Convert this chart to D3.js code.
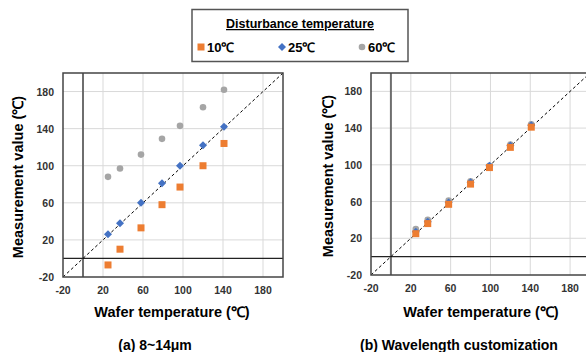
<!DOCTYPE html>
<html>
<head>
<meta charset="utf-8">
<script src="https://cdn.jsdelivr.net/npm/d3@7"></script>
<style>
  body { margin: 0; background: #fff; }
  svg { display: block; font-family: "Liberation Sans", Arial, sans-serif; }
</style>
</head>
<body>
<div id="chart"></div>
<script>
// data
const seriesNames = ['10℃', '25℃', '60℃'];
const seriesColors = ['#ED7D31', '#4472C4', '#A5A5A5'];
const ticks = [-20, 20, 60, 100, 140, 180];

const waferA = [25, 37, 58, 79, 97, 120, 141];
const a10 = [-7, 10, 33, 58, 77, 100, 124];
const a25 = [26, 38, 60, 81, 100, 122, 142];
const a60 = [88, 97, 112, 129, 143, 163, 182];

const waferB = [25, 37, 58, 80, 99, 120, 141];
const b10 = [25, 36, 57, 79, 97, 119, 141];
const b25 = [27, 38, 59, 81, 99, 121, 143];
const b60 = [30, 40, 61, 82, 99, 122, 144];

const panels = [
  { left: 63, right: 283, top: 73, bottom: 277, wafer: waferA, series: [a10, a25, a60],
    yTitleX: 18, xTitleX: 172, caption: '(a) 8~14μm', captionX: 155 },
  { left: 371, right: 590, top: 73, bottom: 275, wafer: waferB, series: [b10, b25, b60],
    yTitleX: 328, xTitleX: 481, caption: '(b) Wavelength customization', captionX: 459 }
];

const svg = d3.select('#chart').append('svg')
  .attr('width', 586)
  .attr('height', 352);

function marker(sel, i, color) {
  if (i === 0) {
    sel.append('rect').attr('x', -3.5).attr('y', -3.5).attr('width', 7).attr('height', 7).attr('fill', color);
  } else if (i === 1) {
    sel.append('path').attr('d', 'M0,-4L4,0L0,4L-4,0Z').attr('fill', color);
  } else {
    sel.append('circle').attr('r', 3.3).attr('fill', color);
  }
}

panels.forEach((p, pi) => {
  const x = d3.scaleLinear().domain([-20, 200]).range([p.left, p.right]);
  const y = d3.scaleLinear().domain([-20, 200]).range([p.bottom, p.top]);
  const g = svg.append('g');

  // gridlines
  g.selectAll('.vgrid').data(ticks.slice(1)).enter().append('line')
    .attr('x1', d => x(d)).attr('x2', d => x(d))
    .attr('y1', p.top).attr('y2', p.bottom)
    .attr('stroke', '#d9d9d9').attr('stroke-width', 1);
  g.selectAll('.hgrid').data(ticks.slice(1)).enter().append('line')
    .attr('x1', p.left).attr('x2', p.right)
    .attr('y1', d => y(d)).attr('y2', d => y(d))
    .attr('stroke', '#d9d9d9').attr('stroke-width', 1);

  // zero lines (axes cross at 0)
  g.append('line')
    .attr('x1', x(0)).attr('x2', x(0)).attr('y1', p.top).attr('y2', p.bottom)
    .attr('stroke', '#6e6e6e').attr('stroke-width', 2);
  g.append('line')
    .attr('x1', p.left).attr('x2', p.right).attr('y1', y(0)).attr('y2', y(0))
    .attr('stroke', '#222').attr('stroke-width', 1.2);

  // y = x reference
  g.append('line')
    .attr('x1', x(-20)).attr('y1', y(-20)).attr('x2', x(200)).attr('y2', y(200))
    .attr('stroke', '#000').attr('stroke-width', 1).attr('stroke-dasharray', '3,2.5');

  // frame
  g.append('rect')
    .attr('x', p.left).attr('y', p.top)
    .attr('width', p.right - p.left).attr('height', p.bottom - p.top)
    .attr('fill', 'none').attr('stroke', '#444').attr('stroke-width', 1.5);

  // points: gray first, orange on top
  [2, 1, 0].forEach(si => {
    p.series[si].forEach((v, k) => {
      const m = g.append('g').attr('transform', `translate(${x(p.wafer[k])},${y(v)})`);
      marker(m, si, seriesColors[si]);
    });
  });

  // tick labels
  g.selectAll('.xt').data(ticks).enter().append('text')
    .attr('x', d => x(d)).attr('y', p.bottom + 17)
    .attr('text-anchor', 'middle')
    .attr('font-size', 10.5).attr('font-weight', 'bold').attr('fill', '#333')
    .text(d => d);
  g.selectAll('.yt').data(ticks).enter().append('text')
    .attr('x', p.left - 9).attr('y', d => y(d) + 4)
    .attr('text-anchor', 'end')
    .attr('font-size', 10.5).attr('font-weight', 'bold').attr('fill', '#333')
    .text(d => d);

  // axis titles
  g.append('text')
    .attr('transform', `translate(${p.yTitleX},${(p.top + p.bottom) / 2 + 2}) rotate(-90)`)
    .attr('text-anchor', 'middle').attr('dominant-baseline', 'central')
    .attr('font-size', 14.5).attr('font-weight', 'bold')
    .text('Measurement value (℃)');
  g.append('text')
    .attr('x', p.xTitleX).attr('y', 317)
    .attr('text-anchor', 'middle')
    .attr('font-size', 14.5).attr('font-weight', 'bold')
    .text('Wafer temperature (℃)');
  g.append('text')
    .attr('x', p.captionX).attr('y', 350)
    .attr('text-anchor', 'middle')
    .attr('font-size', 14).attr('font-weight', 'bold')
    .text(p.caption);
});

// legend
const lg = svg.append('g');
lg.append('rect')
  .attr('x', 192).attr('y', 9.5).attr('width', 216).attr('height', 52)
  .attr('fill', '#fff').attr('stroke', '#555').attr('stroke-width', 1.5);
lg.append('text')
  .attr('x', 300).attr('y', 28)
  .attr('text-anchor', 'middle')
  .attr('font-size', 12.5).attr('font-weight', 'bold')
  .attr('text-decoration', 'underline')
  .text('Disturbance temperature');
const legendX = [201, 282, 362];
seriesNames.forEach((name, i) => {
  const m = lg.append('g').attr('transform', `translate(${legendX[i]},47)`);
  marker(m, i, seriesColors[i]);
  lg.append('text')
    .attr('x', legendX[i] + 6).attr('y', 51.5)
    .attr('font-size', 13).attr('font-weight', 'bold')
    .text(name);
});
</script>
</body>
</html>
